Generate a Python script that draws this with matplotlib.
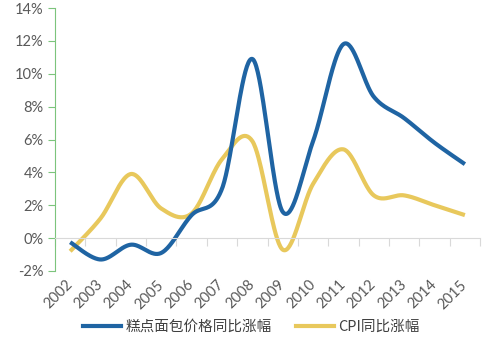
import numpy as np
import matplotlib.pyplot as plt
from matplotlib.lines import Line2D

plt.rcParams['font.family'] = ['Lato', 'Noto Sans CJK SC', 'DejaVu Sans']

years = ['2002', '2003', '2004', '2005', '2006', '2007', '2008',
         '2009', '2010', '2011', '2012', '2013', '2014', '2015']
bread = [-0.25, -1.3, -0.4, -0.9, 1.4, 3.0, 10.9, 1.6, 5.9, 11.8, 8.6, 7.3, 5.8, 4.5]
cpi = [-0.8, 1.2, 3.9, 1.8, 1.5, 4.8, 5.9, -0.7, 3.3, 5.4, 2.6, 2.6, 2.0, 1.4]

blue = '#1f64a3'
yellow = '#e8c85c'


def smooth(xs, ys, n=40):
    # excel-like bezier smoothing (catmull-rom control points)
    p = np.column_stack([xs, ys]).astype(float)
    p = np.vstack([p[0], p, p[-1]])
    out = []
    for i in range(1, len(p) - 2):
        p0, p1, p2, p3 = p[i - 1], p[i], p[i + 1], p[i + 2]
        c1 = p1 + (p2 - p0) / 6
        c2 = p2 - (p3 - p1) / 6
        t = np.linspace(0, 1, n)[:, None]
        seg = ((1 - t) ** 3) * p1 + 3 * ((1 - t) ** 2) * t * c1 + 3 * (1 - t) * t ** 2 * c2 + t ** 3 * p2
        out.append(seg)
    out = np.vstack(out)
    return out[:, 0], out[:, 1]


fig = plt.figure(figsize=(4.98, 3.45), dpi=100)
ax = fig.add_axes([0.1104, 0.2145, 0.8536, 0.7623])

x = np.arange(len(years))
bx, by = smooth(x, bread)
cx, cy = smooth(x, cpi)
ax.plot(cx, cy, color=yellow, lw=3, solid_capstyle='butt')
ax.plot(bx, by, color=blue, lw=3, solid_capstyle='butt')

ax.set_xlim(-0.5, len(years) - 0.5)
ax.set_ylim(-2, 14)
ax.set_yticks(range(-2, 15, 2))
ax.set_yticklabels([f'{v}%' for v in range(-2, 15, 2)])

for s in ['top', 'right']:
    ax.spines[s].set_visible(False)
ax.spines['left'].set_color('#7cc47c')
ax.spines['bottom'].set_position(('data', 0))
ax.spines['bottom'].set_color('#d9d9d9')

ax.set_xticks(np.arange(-0.5, len(years), 1))
ax.set_xticklabels([])
ax.set_xticks(x, minor=True)
ax.set_xticklabels(years, minor=True, rotation=45, ha='right', va='center',
                   rotation_mode='anchor')
ax.tick_params(axis='x', which='major', length=6, color='#d9d9d9')
ax.tick_params(axis='x', which='minor', length=0, pad=32, labelsize=10.5,
               labelcolor='#595959')
ax.tick_params(axis='y', length=5, color='#7cc47c', labelsize=10.5,
               labelcolor='#595959', pad=3)

handles = [Line2D([], [], color=blue, lw=3), Line2D([], [], color=yellow, lw=3)]
fig.legend(handles, ['糕点面包价格同比涨幅', 'CPI同比涨幅'], loc='center',
           bbox_to_anchor=(0.505, 0.052), ncol=2, frameon=False,
           prop={'family': ['Noto Sans CJK SC'], 'size': 10.5},
           labelcolor='#404040', handlelength=2.6, handletextpad=0.3,
           columnspacing=1.7)

fig.savefig('out.png', dpi=100)
